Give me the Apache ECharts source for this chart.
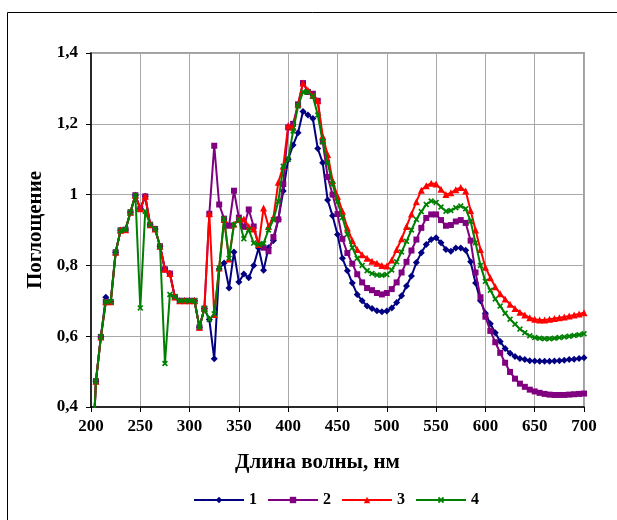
<!DOCTYPE html>
<html><head><meta charset="utf-8">
<script src="https://cdn.jsdelivr.net/npm/echarts@6/dist/echarts.min.js"></script>
<style>html,body{margin:0;padding:0;background:#fff}#c{width:617px;height:520px}</style>
</head><body><div id="c"></div>
<script>
var wavelengths = [200,205,210,215,220,225,230,235,240,245,
250,255,260,265,270,275,280,285,290,295,
300,305,310,315,320,325,330,335,340,345,
350,355,360,365,370,375,380,385,390,395,
400,405,410,415,420,425,430,435,440,445,
450,455,460,465,470,475,480,485,490,495,
500,505,510,515,520,525,530,535,540,545,
550,555,560,565,570,575,580,585,590,595,
600,605,610,615,620,625,630,635,640,645,
650,655,660,665,670,675,680,685,690,695,700];

var s1 = [0.17,0.473,0.598,0.71,0.697,0.837,0.899,0.901,0.95,0.998,
0.96,0.995,0.915,0.903,0.854,0.789,0.777,0.711,0.70,0.70,
0.70,0.70,0.625,0.678,0.647,0.536,0.79,0.807,0.736,0.838,
0.753,0.776,0.765,0.80,0.849,0.786,0.85,0.87,0.93,1.01,
1.10,1.14,1.175,1.235,1.225,1.215,1.13,1.09,0.985,0.94,
0.887,0.82,0.785,0.75,0.718,0.70,0.685,0.678,0.672,0.669,
0.671,0.68,0.695,0.714,0.742,0.77,0.808,0.836,0.859,0.873,
0.878,0.864,0.845,0.84,0.849,0.849,0.843,0.81,0.75,0.70,
0.665,0.635,0.61,0.585,0.565,0.552,0.543,0.537,0.534,0.531,
0.53,0.529,0.529,0.529,0.53,0.531,0.532,0.534,0.535,0.537,0.539];

var s2 = [0.17,0.473,0.598,0.697,0.697,0.837,0.899,0.901,0.95,0.998,
0.96,0.995,0.915,0.903,0.854,0.789,0.777,0.711,0.70,0.70,
0.70,0.70,0.625,0.678,0.946,1.138,0.972,0.932,0.912,1.011,
0.935,0.909,0.958,0.91,0.858,0.85,0.84,0.88,0.93,1.03,
1.19,1.2,1.255,1.315,1.29,1.285,1.265,1.15,1.05,1.0,
0.945,0.875,0.835,0.805,0.775,0.752,0.736,0.73,0.722,0.718,
0.722,0.733,0.752,0.78,0.81,0.842,0.873,0.906,0.934,0.944,
0.944,0.928,0.912,0.914,0.924,0.928,0.92,0.87,0.78,0.71,
0.655,0.615,0.583,0.553,0.525,0.499,0.48,0.466,0.457,0.449,
0.444,0.44,0.437,0.435,0.434,0.434,0.434,0.435,0.436,0.437,0.438];

var s3 = [0.17,0.473,0.598,0.697,0.697,0.837,0.899,0.901,0.95,0.998,
0.96,0.995,0.915,0.903,0.854,0.789,0.777,0.711,0.70,0.70,
0.70,0.70,0.625,0.678,0.946,0.661,0.793,0.93,0.818,0.917,
0.93,0.931,0.91,0.903,0.859,0.962,0.91,0.935,1.035,1.08,
1.195,1.19,1.255,1.315,1.295,1.28,1.265,1.165,1.113,1.04,
0.995,0.953,0.906,0.87,0.845,0.83,0.82,0.812,0.806,0.80,
0.798,0.815,0.845,0.875,0.91,0.945,0.98,1.012,1.025,1.032,
1.03,1.015,1.0,1.005,1.014,1.02,1.01,0.955,0.9,0.845,
0.795,0.765,0.74,0.72,0.705,0.69,0.678,0.668,0.66,0.652,
0.648,0.646,0.646,0.648,0.65,0.652,0.654,0.657,0.66,0.663,0.666];

var s4 = [0.17,0.473,0.598,0.697,0.697,0.837,0.899,0.901,0.95,0.998,
0.68,0.953,0.915,0.903,0.854,0.523,0.718,0.711,0.70,0.70,
0.70,0.70,0.625,0.678,0.647,0.663,0.793,0.932,0.82,0.915,
0.93,0.875,0.901,0.863,0.859,0.862,0.90,0.929,0.981,1.08,
1.099,1.18,1.25,1.29,1.29,1.278,1.225,1.15,1.09,1.03,
0.98,0.935,0.888,0.85,0.82,0.80,0.785,0.777,0.773,0.772,
0.774,0.787,0.81,0.838,0.868,0.9,0.93,0.952,0.972,0.982,
0.978,0.965,0.953,0.955,0.963,0.968,0.96,0.925,0.864,0.80,
0.755,0.73,0.705,0.685,0.665,0.648,0.634,0.62,0.61,0.601,
0.596,0.594,0.593,0.593,0.594,0.596,0.598,0.60,0.602,0.604,0.607];

var seriesNames = ['1','2','3','4'];
var xTicks = {min:200, max:700, step:50};
var yTicks = {min:0.4, max:1.4, step:0.2};

function pairs(vals){ return wavelengths.map(function(w,i){ return [w, vals[i]]; }); }

var FONT = '"Liberation Serif","Times New Roman",serif';
var xMark = 'path://M2,0 L5,3 L8,0 L10,2 L7,5 L10,8 L8,10 L5,7 L2,10 L0,8 L3,5 L0,2 Z';
var styles = [
  {color:'#000080', symbol:'diamond', size:7},
  {color:'#800080', symbol:'rect', size:6},
  {color:'#ff0000', symbol:'triangle', size:7},
  {color:'#008000', symbol:xMark, size:6}
];
var allVals = [s1,s2,s3,s4];

var chart = echarts.init(document.getElementById('c'), null, {renderer:'canvas'});
chart.setOption({
  animation:false,
  backgroundColor:'#fff',
  graphic:[{type:'rect', shape:{x:7.5,y:12.5,width:700,height:600}, style:{fill:'none', stroke:'#000', lineWidth:1}, silent:true, z:-1}],
  grid:{left:91, right:33, top:53, bottom:113, show:true, borderColor:'#a0a0a0', borderWidth:2, backgroundColor:'transparent'},
  legend:{
    data:seriesNames, left:188, top:487, itemWidth:50, itemHeight:8, itemGap:10,
    textStyle:{fontFamily:FONT, fontWeight:'bold', fontSize:16, color:'#000'}
  },
  xAxis:{
    type:'value', min:xTicks.min, max:xTicks.max, interval:xTicks.step,
    name:'Длина волны, нм', nameLocation:'middle', nameGap:45,
    nameTextStyle:{fontFamily:FONT, fontWeight:'bold', fontSize:21, color:'#000', padding:[0,40,0,0]},
    axisLine:{lineStyle:{color:'#000', width:1.5}},
    axisTick:{show:true, inside:false, length:5, lineStyle:{color:'#000'}},
    axisLabel:{fontFamily:FONT, fontWeight:'bold', fontSize:17, color:'#000', margin:11},
    splitLine:{show:true, lineStyle:{color:'#a8a8a8', width:1}}
  },
  yAxis:{
    type:'value', min:yTicks.min, max:yTicks.max, interval:yTicks.step,
    name:'Поглощение', nameLocation:'middle', nameGap:45, nameRotate:90,
    nameTextStyle:{fontFamily:FONT, fontWeight:'bold', fontSize:21, color:'#000'},
    axisLine:{show:true, lineStyle:{color:'#000', width:1.5}},
    axisTick:{show:true, inside:false, length:5, lineStyle:{color:'#000'}},
    axisLabel:{fontFamily:FONT, fontWeight:'bold', fontSize:17, color:'#000', margin:13,
      formatter:function(v){ return (Math.round(v*10)/10).toString().replace('.', ','); }},
    splitLine:{show:true, lineStyle:{color:'#a8a8a8', width:1}}
  },
  series: seriesNames.map(function(n,i){
    return {
      name:n, type:'line', data:pairs(allVals[i]),
      symbol:styles[i].symbol, symbolSize:styles[i].size, showAllSymbol:true,
      clip:true,
      lineStyle:{color:styles[i].color, width:2},
      itemStyle:{color:styles[i].color, borderWidth:0},
      z:2+i
    };
  })
});
</script></body></html>
